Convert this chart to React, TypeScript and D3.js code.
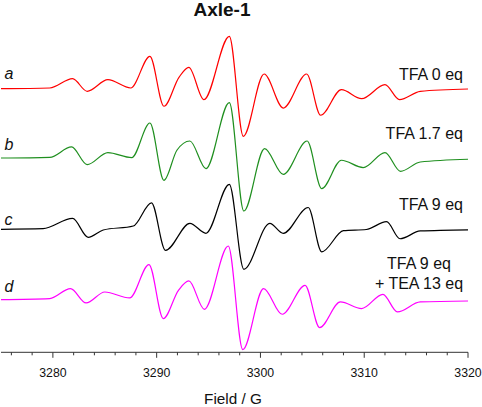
import * as d3 from "d3";

// Field positions (G) of the turning points of each spectrum, with the
// derivative intensity (a.u.) read at each of them.
const fieldA = [3275, 3279.7, 3281.9, 3283.3, 3285.3, 3287.5, 3289.35, 3290.7, 3292.15, 3293.1, 3294.55, 3297.0, 3298.35, 3300.35, 3302.2, 3304.45, 3305.8, 3307.8, 3309.75, 3312.0, 3313.4, 3315.4, 3320];
const intensityA = [0, 0.01, 0.142, -0.037, 0.128, 0.01, 0.461, -0.25, 0.162, 0.304, -0.156, 0.745, -0.677, 0.209, -0.275, 0.209, -0.378, -0.014, -0.142, 0.057, -0.156, -0.037, -0.004];

const fieldB = [3275, 3279.7, 3281.8, 3283.3, 3285.3, 3287.6, 3289.35, 3290.7, 3291.95, 3293.2, 3294.75, 3297.0, 3298.4, 3300.4, 3302.2, 3304.5, 3305.9, 3307.8, 3309.9, 3312.0, 3313.5, 3315.4, 3320];
const intensityB = [0.014, 0.024, 0.171, -0.08, 0.091, 0.02, 0.512, -0.303, 0.124, 0.256, -0.137, 0.802, -0.74, 0.148, -0.218, 0.256, -0.421, -0.018, -0.122, 0.091, -0.175, -0.043, -0.004];

const fieldC = [3275, 3279.05, 3281.9, 3283.4, 3284.85, 3287.75, 3289.5, 3290.85, 3293.2, 3294.75, 3297.0, 3298.4, 3300.9, 3302.2, 3304.6, 3305.9, 3308.0, 3310.2, 3312.15, 3313.45, 3315.4, 3320];
const intensityC = [0, 0.009, 0.154, -0.114, -0.01, 0.047, 0.377, -0.3, 0.085, -0.057, 0.64, -0.569, 0.085, -0.057, 0.31, -0.32, -0.02, -0.003, 0.108, -0.135, -0.024, -0.007];

const fieldD = [3275, 3279.7, 3281.7, 3283.2, 3285.0, 3287.4, 3289.26, 3290.64, 3292.1, 3293.1, 3294.6, 3296.9, 3298.3, 3300.3, 3302.1, 3304.3, 3305.7, 3307.7, 3309.75, 3311.8, 3313.2, 3315.4, 3320];
const intensityD = [0, 0.014, 0.156, -0.048, 0.108, 0.023, 0.498, -0.27, 0.132, 0.265, -0.138, 0.762, -0.711, 0.156, -0.209, 0.203, -0.398, -0.034, -0.128, 0.075, -0.176, -0.034, -0.02];

const traceLetters = ["a", "b", "c", "d"];
const traceOffsets = [3, 2, 1, 0];
const traceColors = ["#ff0000", "#1f8f1f", "#000000", "#ff00ff"];
const traceLabels = [["TFA 0 eq"], ["TFA 1.7 eq"], ["TFA 9 eq"], ["TFA 9 eq", "+ TEA 13 eq"]];

const majorTicks = [3280, 3290, 3300, 3310, 3320];
const minorTicks = d3.range(3276, 3320, 2).filter((v) => v % 10 !== 0);

const W = 482;
const H = 407;
const FONT = "'Liberation Sans', Arial, Helvetica, sans-serif";

export default function App() {
  const x = d3.scaleLinear().domain([3275, 3320]).range([1, 468]);
  const y = d3.scaleLinear().domain([-0.75, 4]).range([352.3, 18.4]);

  const fields = [fieldA, fieldB, fieldC, fieldD];
  const values = [intensityA, intensityB, intensityC, intensityD];

  const line = d3
    .line<[number, number]>()
    .x((d) => x(d[0]))
    .y((d) => y(d[1]))
    .curve(d3.curveMonotoneX);

  const axisY = y(-0.75);

  // label baselines relative to each trace's zero line
  const letterDy = [-9.7, -9.4, -4.7, -7.6];
  const labelDy = [-9, -19.5, -19.2, -30.5];

  return (
    <svg
      width={W}
      height={H}
      viewBox={`0 0 ${W} ${H}`}
      style={{ position: "absolute", left: 0, top: 0, background: "#fff" }}
      fontFamily={FONT}
    >
      <text x={222} y={15.5} textAnchor="middle" fontSize={19} fontWeight="bold" fill="#111">
        Axle-1
      </text>

      {fields.map((f, i) => {
        const pts = f.map((v, j) => [v, values[i][j] + traceOffsets[i]] as [number, number]);
        const base = y(traceOffsets[i]);
        const lines = traceLabels[i];
        return (
          <g key={traceLetters[i]}>
            <path d={line(pts) ?? ""} fill="none" stroke={traceColors[i]} strokeWidth={1.2} strokeLinejoin="round" />
            <text x={4.5} y={base + letterDy[i]} fontSize={16} fontStyle="italic" fill="#111">
              {traceLetters[i]}
            </text>
            {lines.map((t, k) => (
              <text
                key={t}
                x={lines.length > 1 ? 419 : 463}
                y={base + labelDy[i] + k * 20}
                textAnchor={lines.length > 1 ? "middle" : "end"}
                fontSize={16}
                fill="#111"
              >
                {t}
              </text>
            ))}
          </g>
        );
      })}

      <g>
        <line x1={x(3275)} x2={x(3320)} y1={axisY} y2={axisY} stroke="#333" strokeWidth={1} />
        {minorTicks.map((t) => (
          <line key={t} x1={x(t)} x2={x(t)} y1={axisY} y2={axisY + 3} stroke="#333" strokeWidth={1} />
        ))}
        {majorTicks.map((t) => (
          <g key={t}>
            <line x1={x(t)} x2={x(t)} y1={axisY} y2={axisY + 5.5} stroke="#333" strokeWidth={1} />
            <text x={x(t)} y={377} textAnchor="middle" fontSize={12.3} fill="#111">
              {t}
            </text>
          </g>
        ))}
        <text x={233} y={404} textAnchor="middle" fontSize={15.3} fill="#111">
          Field / G
        </text>
      </g>
    </svg>
  );
}
